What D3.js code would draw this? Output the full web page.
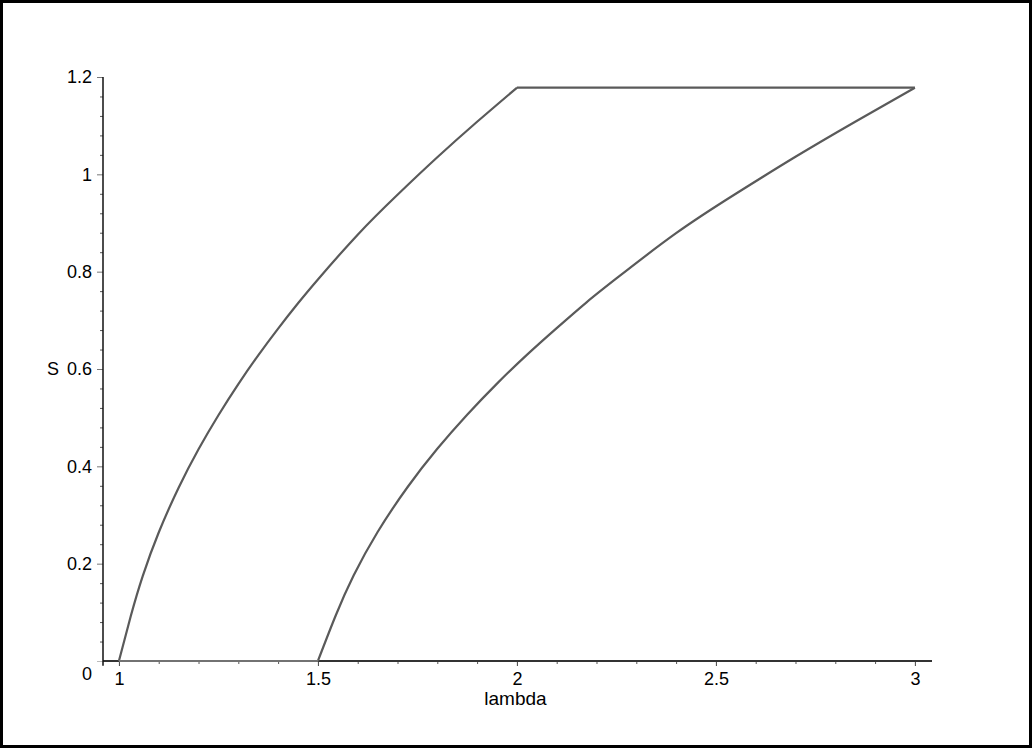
<!DOCTYPE html>
<html lang="en">

<head>
    <meta charset="UTF-8">
    <title>S vs lambda</title>
    <script src="https://cdn.jsdelivr.net/npm/d3@7"></script>
    <style>
        body { margin: 0; background: #fff; }
        text { font-family: "Liberation Sans", Arial, Helvetica, sans-serif; }
    </style>
</head>

<body>
    <svg width="1036" height="750" id="mainsvg"></svg>
    <script>
        // curve: branch starting at lambda = 1
        const leftLambda = [1.0, 1.03, 1.06, 1.1, 1.15, 1.2, 1.25, 1.3, 1.35, 1.4, 1.45, 1.5, 1.6, 1.7, 1.8, 1.9, 2.0];
        const leftS = [0, 0.093, 0.175, 0.264, 0.356, 0.435, 0.505, 0.569, 0.628, 0.683, 0.735, 0.784, 0.876, 0.958, 1.035, 1.108, 1.178];
        // second branch starting at lambda = 1.5
        const rightLambda = [1.5, 1.545, 1.59, 1.65, 1.725, 1.8, 1.875, 1.95, 2.025, 2.1, 2.175, 2.25, 2.4, 2.55, 2.7, 2.85, 3.0];
        const rightS = [0, 0.094, 0.176, 0.265, 0.357, 0.436, 0.506, 0.570, 0.629, 0.684, 0.737, 0.786, 0.879, 0.960, 1.036, 1.108, 1.178];

        const xTicks = [1, 1.5, 2, 2.5, 3];
        const yTicks = [0, 0.2, 0.4, 0.6, 0.8, 1, 1.2];

        const svg = d3.select('#mainsvg');

        // frame round the whole picture
        svg.append('rect')
            .attr('x', 1.5).attr('y', 1.5)
            .attr('width', 1029).attr('height', 745)
            .attr('fill', 'none').attr('stroke', '#000').attr('stroke-width', 3);

        const xScale = d3.scaleLinear().domain([0.96, 3.043]).range([103, 932]);
        const yScale = d3.scaleLinear().domain([0, 1.2]).range([661, 77]);

        const g = svg.append('g').attr('id', 'maingroup');

        // minor ticks
        const xMinor = d3.range(10, 31).map(d => d / 10).filter(d => !xTicks.includes(d));
        const yMinor = d3.range(0, 31).map(d => +(d * 0.04).toFixed(2)).filter(d => !yTicks.includes(d));

        g.append('g').attr('transform', `translate(0, ${yScale(0)})`)
            .call(d3.axisBottom(xScale).tickValues(xMinor).tickSize(3).tickSizeOuter(0).tickFormat(''))
            .call(a => a.select('.domain').remove())
            .selectAll('line').attr('stroke', '#555');
        g.append('g').attr('transform', `translate(${xScale(0.96)}, 0)`)
            .call(d3.axisLeft(yScale).tickValues(yMinor).tickSize(3).tickSizeOuter(0).tickFormat(''))
            .call(a => a.select('.domain').remove())
            .selectAll('line').attr('stroke', '#555');

        // major ticks and labels
        const xAxis = g.append('g').attr('id', 'xaxis').attr('transform', `translate(0, ${yScale(0)})`)
            .call(d3.axisBottom(xScale).tickValues(xTicks).tickSize(5).tickPadding(6).tickSizeOuter(0).tickFormat(d3.format('~g')));
        xAxis.select('.domain').remove();
        xAxis.selectAll('line').attr('stroke', '#444');

        const yAxis = g.append('g').attr('id', 'yaxis').attr('transform', `translate(${xScale(0.96)}, 0)`)
            .call(d3.axisLeft(yScale).tickValues(yTicks).tickSize(6).tickPadding(5).tickSizeOuter(0).tickFormat(d3.format('~g')));
        yAxis.select('.domain').remove();
        yAxis.selectAll('line').attr('stroke', '#777');
        yAxis.selectAll('.tick').filter(d => d === 0).select('line').attr('stroke', '#bbb');
        yAxis.selectAll('.tick').filter(d => d === 0).select('text').attr('dy', '1em');

        d3.selectAll('.tick text').attr('font-size', '18px').attr('fill', '#000')
            .attr('font-family', '"Liberation Sans", Arial, sans-serif');

        // axis lines
        g.append('line')
            .attr('x1', xScale(0.96)).attr('x2', xScale(3.043))
            .attr('y1', yScale(0)).attr('y2', yScale(0))
            .attr('stroke', '#333').attr('stroke-width', 2);
        g.append('line')
            .attr('x1', xScale(0.96)).attr('x2', xScale(0.96))
            .attr('y1', yScale(-0.01)).attr('y2', yScale(1.2))
            .attr('stroke', '#111').attr('stroke-width', 1.5);

        // axis titles
        svg.append('text')
            .attr('x', (xScale(0.96) + xScale(3.043)) / 2 - 2).attr('y', 705)
            .attr('text-anchor', 'middle').attr('font-size', '19px')
            .text('lambda');
        svg.append('text')
            .attr('x', 59).attr('y', yScale(0.6)).attr('dy', '0.35em')
            .attr('text-anchor', 'end').attr('font-size', '18px')
            .text('S');

        // curves
        const left = leftLambda.map((d, i) => [d, leftS[i]]);
        const right = rightLambda.map((d, i) => [d, rightS[i]]);
        const line = d3.line()
            .x(d => xScale(d[0]))
            .y(d => yScale(d[1]))
            .curve(d3.curveNatural);
        const seg = d3.line().x(d => xScale(d[0])).y(d => yScale(d[1]));

        const curves = g.append('g').attr('fill', 'none').attr('stroke', '#5a5a5a')
            .attr('stroke-width', 2.2).attr('stroke-linejoin', 'round');
        curves.append('path').attr('d', line(left));
        curves.append('path').attr('d', line(right));
        curves.append('path').attr('d', seg([left[left.length - 1], right[right.length - 1]]));
        curves.append('path').attr('d', seg([left[0], right[0]]))
            .attr('stroke', '#888').attr('stroke-width', 1.5);
    </script>
</body>

</html>
